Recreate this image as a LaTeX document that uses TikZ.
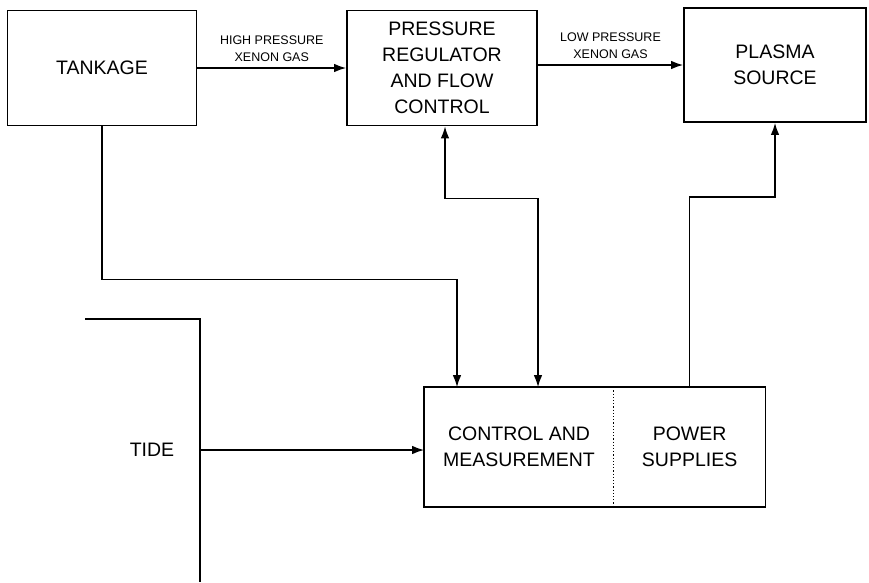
\documentclass[tikz,border=0pt]{standalone}
\usepackage{fontspec}
\setmainfont{Liberation Sans}
\usepackage{tikz}
\usetikzlibrary{positioning, arrows.meta}

\begin{document}
\begin{tikzpicture}[x=1pt, y=-1pt, line width=1.6pt,
    block/.style={draw, rectangle, align=center, inner sep=0pt,
        font=\fontsize{19.5}{26}\selectfont},
    part/.style={rectangle, align=center, inner sep=0pt,
        font=\fontsize{19.5}{26}\selectfont},
    gas/.style={align=center, inner sep=2pt, font=\fontsize{12.5}{17}\selectfont},
    arr/.style={-{Latex[length=12pt,width=8.5pt]}},
    both/.style={{Latex[length=12pt,width=8.5pt]}-{Latex[length=12pt,width=8.5pt]}}]
    \useasboundingbox (0,0) rectangle (869,582);
    \node[block, minimum width=189, minimum height=115] (tank) at (102,68) {TANKAGE};
    \node[block, minimum width=190, minimum height=115] (preg) at (442,68) {PRESSURE\\REGULATOR\\AND FLOW\\CONTROL};
    \node[block, minimum width=182, minimum height=114] (plasma) at (775,65) {PLASMA\\SOURCE};
    \node[part, minimum width=188, minimum height=118] (ctrl) at (519,447) {CONTROL AND\\MEASUREMENT};
    \node[part, minimum width=150, minimum height=118, right=0pt of ctrl] (psu) {POWER\\SUPPLIES};
    \draw (ctrl.north west) rectangle (psu.south east);
    \draw[dotted, line width=1.2pt] (ctrl.north east) -- (ctrl.south east);
    \node[part] (tide) at (152,450) {TIDE};
    \draw (85,319) -| (200,582);
    \coordinate (tideout) at (200,450);

    \draw[arr] (tank.east) -- (tank.east -| preg.west)
        node[gas, midway, above=4pt] (hpgas) {HIGH PRESSURE\\XENON GAS};
    \draw[arr] (preg.east |- plasma.west) -- (plasma.west)
        node[gas, midway, above=4pt] (lpgas) {LOW PRESSURE\\XENON GAS};
    \draw[arr] (tank.south) -- ++(0,153) -| ([xshift=-62pt]ctrl.north);
    \draw[both] ([xshift=3pt]preg.south) -- ++(0,72) -| ([xshift=19pt]ctrl.north);
    \draw[arr] (psu.north) -- ++(0,-190) -| (plasma.south);
    \draw[arr] (tideout) -- (ctrl.west |- tideout);
\end{tikzpicture}
\end{document}
